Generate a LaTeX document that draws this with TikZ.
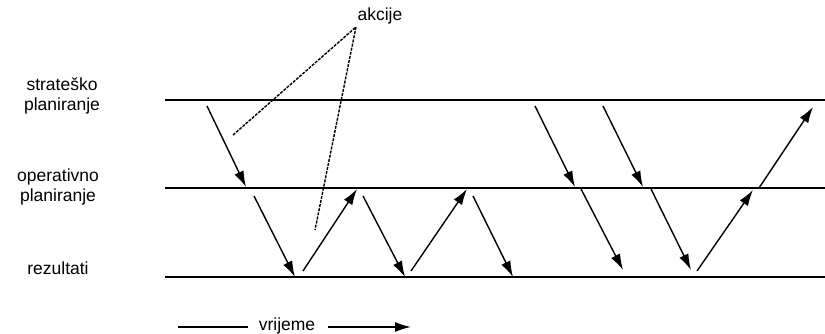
\documentclass[tikz,border=0pt]{standalone}
\usepackage{fontspec}
\setmainfont{Liberation Sans}
\usetikzlibrary{arrows.meta}
\tikzset{
  lvl line/.style={draw=black, line width=1.7pt},
  flow arrow/.style={draw=black, line width=1.4pt, -{Latex[length=16pt,width=10pt]}},
  act link/.style={draw=black, dash pattern=on 3pt off 1.2pt, line width=1.4pt},
  lvl label/.style={font=\fontsize{17.5}{20}\selectfont, align=center, inner sep=0pt},
}

\begin{document}
\begin{tikzpicture}[x=1pt,y=-1pt]
\useasboundingbox (0,0) rectangle (825,334);
% planning levels
\foreach \y/\n in {100/str,188/op,277/rez}{\coordinate (\n-a) at (165,\y);\coordinate (\n-b) at (825,\y);\draw[lvl line](\n-a)--(\n-b);}
\node[lvl label] (strat) at (62,96) {strateško\\planiranje};
\node[lvl label] (oper) at (58,187) {operativno\\planiranje};
\node[lvl label] (rezul) at (58,268) {rezultati};
% actions
\foreach \xa/\ya/\xb/\yb [count=\i] in {207/106/246/187, 254/196/295/277, 303/271/357/189, 363/196/405/277, 411/271/467/189, 473/196/513/277, 535/106/575/187, 603/106/643/187, 581/189/623/270, 651/189/691/270, 697/271/753/190, 759/188/813/107}{\coordinate (s\i) at (\xa,\ya);\coordinate (e\i) at (\xb,\yb);\draw[flow arrow](s\i)--(e\i);}
\node[lvl label] (akc) at (380,16) {akcije};
\coordinate (akc-tip) at (356,27);
\coordinate (akc-l) at (233,135);
\coordinate (akc-r) at (315,230);
\draw[act link](akc-l)--(akc-tip)--(akc-r);
% time axis
\node[lvl label] (vrij) at (287,326) {vrijeme};
\coordinate (t-a) at (178,327);\coordinate (t-b) at (248,327);
\coordinate (t-c) at (328,327);\coordinate (t-d) at (411,327);
\draw[flow arrow,-](t-a)--(t-b);
\draw[flow arrow](t-c)--(t-d);
\end{tikzpicture}
\end{document}
